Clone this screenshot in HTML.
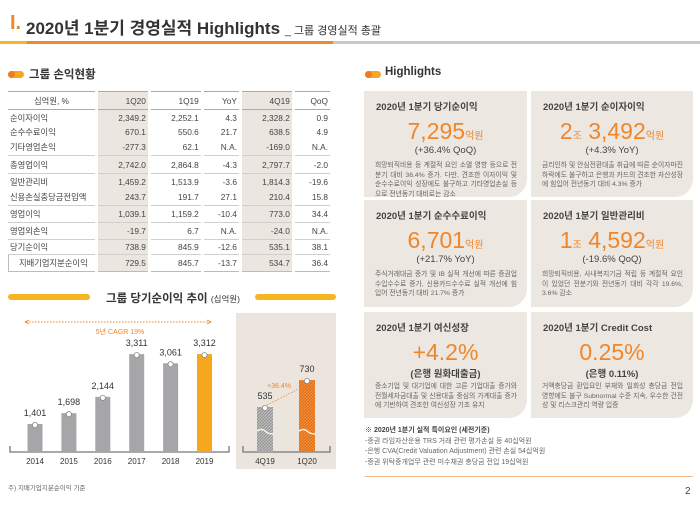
<!DOCTYPE html>
<html><head><meta charset="utf-8">
<style>
*{margin:0;padding:0;box-sizing:border-box}
body{width:700px;height:505px;background:#fff;position:relative;overflow:hidden;font-family:"Liberation Sans","Noto Sans CJK KR",sans-serif;color:#333}
.abs{position:absolute}
.pill{position:absolute;width:16px;height:7px;border-radius:4px;background:#f6a623}
.pill:before{content:"";position:absolute;left:0;top:0;width:7px;height:7px;border-radius:4px;background:#ee7d22}
table{position:absolute;left:8px;top:91px;width:328px;border-collapse:separate;border-spacing:3px 0;margin-left:-3px;font-size:8.3px;color:#444}
td{text-align:right;padding-right:2px;white-space:nowrap}
td:first-child{text-align:left;padding-left:2px}
.sh{background:#ebe6df}
tr.g td{border-top:1px solid #cfcfcf}
thead td{height:19px;border-top:1.5px solid #aaa;border-bottom:1.5px solid #aaa}
.card{position:absolute;background:#ece7e0;border-bottom-right-radius:18px}
.card .t{position:absolute;left:12px;top:8px;font-size:9.5px;font-weight:bold;color:#444}
.card .n{position:absolute;left:0;right:0;text-align:center;color:#f0862a;font-size:23px;top:27px}
.card .n small{font-size:10px;color:#f0862a}
.card .s{position:absolute;left:0;right:0;text-align:center;font-size:9.5px;color:#444;top:54px}
.card .d{position:absolute;left:11px;right:10px;top:70px;font-size:6.8px;line-height:9.5px;color:#666;text-align:justify}
.note{font-size:7px;color:#666;line-height:10.5px}
</style></head><body>
<div class="abs" style="left:10px;top:12px;font-size:20px;color:#f0862a;font-weight:bold">I.</div>
<div class="abs" style="left:26px;top:14px;font-size:17px;font-weight:bold;color:#333">2020년 1분기 경영실적 Highlights <span style="font-size:11px;font-weight:normal">_ 그룹 경영실적 총괄</span></div>
<div class="abs" style="left:0;top:41px;width:700px;height:3px;background:#c8c8c8"><div style="position:absolute;left:0;width:27px;height:3px;background:#f6b623"></div><div style="position:absolute;left:27px;width:306px;height:3px;background:#ee8a2c"></div></div>

<div class="pill" style="left:8px;top:71px"></div>
<div class="abs" style="left:29px;top:66px;font-size:11.5px;font-weight:bold">그룹 손익현황</div>

<table>
<thead><tr><td style="text-align:center;width:87px">십억원, %</td><td class="sh">1Q20</td><td>1Q19</td><td>YoY</td><td class="sh">4Q19</td><td>QoQ</td></tr></thead>
<tbody>
<tr style="height:15px"><td>순이자이익</td><td class="sh">2,349.2</td><td>2,252.1</td><td>4.3</td><td class="sh">2,328.2</td><td>0.9</td></tr>
<tr style="height:14px"><td>순수수료이익</td><td class="sh">670.1</td><td>550.6</td><td>21.7</td><td class="sh">638.5</td><td>4.9</td></tr>
<tr style="height:16px"><td>기타영업손익</td><td class="sh">-277.3</td><td>62.1</td><td>N.A.</td><td class="sh">-169.0</td><td>N.A.</td></tr>
<tr class="g" style="height:18px"><td>총영업이익</td><td class="sh">2,742.0</td><td>2,864.8</td><td>-4.3</td><td class="sh">2,797.7</td><td>-2.0</td></tr>
<tr class="g" style="height:16px"><td>일반관리비</td><td class="sh">1,459.2</td><td>1,513.9</td><td>-3.6</td><td class="sh">1,814.3</td><td>-19.6</td></tr>
<tr style="height:16px"><td>신용손실충당금전입액</td><td class="sh">243.7</td><td>191.7</td><td>27.1</td><td class="sh">210.4</td><td>15.8</td></tr>
<tr class="g" style="height:17px"><td>영업이익</td><td class="sh">1,039.1</td><td>1,159.2</td><td>-10.4</td><td class="sh">773.0</td><td>34.4</td></tr>
<tr class="g" style="height:17px"><td>영업외손익</td><td class="sh">-19.7</td><td>6.7</td><td>N.A.</td><td class="sh">-24.0</td><td>N.A.</td></tr>
<tr class="g" style="height:15px"><td>당기순이익</td><td class="sh">738.9</td><td>845.9</td><td>-12.6</td><td class="sh">535.1</td><td>38.1</td></tr>
<tr class="g" style="height:18px"><td style="padding-left:10px;border-left:1px solid #bbb;border-bottom:1px solid #bbb">지배기업지분순이익</td><td class="sh" style="border-bottom:1px solid #bbb">729.5</td><td style="border-bottom:1px solid #bbb">845.7</td><td style="border-bottom:1px solid #bbb">-13.7</td><td class="sh" style="border-bottom:1px solid #bbb">534.7</td><td style="border-bottom:1px solid #bbb">36.4</td></tr>
</tbody></table>

<div class="abs" style="left:8px;top:294px;width:82px;height:6px;border-radius:3px;background:#f6b623"></div>
<div class="abs" style="left:255px;top:294px;width:81px;height:6px;border-radius:3px;background:#f6b623"></div>
<div class="abs" style="left:106px;top:290px;font-size:11.5px;font-weight:bold">그룹 당기순이익 추이 <span style="font-size:8.5px;font-weight:normal">(십억원)</span></div>
<div class="abs" style="left:236px;top:313px;width:100px;height:156px;background:#ebe5de"></div>
<svg id="chart" class="abs" style="left:0;top:0" width="700" height="505"></svg>
<div class="abs" style="left:8px;top:482px;font-size:6.5px;color:#666">주) 지배기업지분순이익 기준</div>

<div class="pill" style="left:365px;top:71px"></div>
<div class="abs" style="left:385px;top:66px;font-size:11.5px;font-weight:bold">Highlights</div>

<div class="card" style="left:364px;top:91px;width:163px;height:106px"><div class="t">2020년 1분기 당기순이익</div><div class="n">7,295<small>억원</small></div><div class="s">(+36.4% QoQ)</div><div class="d">희망퇴직비용 등 계절적 요인 소멸 영향 등으로 전분기 대비 36.4% 증가. 다만, 견조한 이자이익 및 순수수료이익 성장에도 불구하고 기타영업손실 등으로 전년동기 대비로는 감소</div></div>
<div class="card" style="left:531px;top:91px;width:162px;height:106px"><div class="t">2020년 1분기 순이자이익</div><div class="n">2<small>조</small> 3,492<small>억원</small></div><div class="s">(+4.3% YoY)</div><div class="d">금리인하 및 안심전환대출 취급에 따른 순이자마진 하락에도 불구하고 은행과 카드의 견조한 자산성장에 힘입어 전년동기 대비 4.3% 증가</div></div>
<div class="card" style="left:364px;top:200px;width:163px;height:107px"><div class="t">2020년 1분기 순수수료이익</div><div class="n">6,701<small>억원</small></div><div class="s">(+21.7% YoY)</div><div class="d">주식거래대금 증가 및 IB 실적 개선에 따른 증권업 수입수수료 증가, 신용카드수수료 실적 개선에 힘입어 전년동기 대비 21.7% 증가</div></div>
<div class="card" style="left:531px;top:200px;width:162px;height:107px"><div class="t">2020년 1분기 일반관리비</div><div class="n">1<small>조</small> 4,592<small>억원</small></div><div class="s">(-19.6% QoQ)</div><div class="d">희망퇴직비용, 사내복지기금 적립 등 계절적 요인이 있었던 전분기와 전년동기 대비 각각 19.6%, 3.6% 감소</div></div>
<div class="card" style="left:364px;top:312px;width:163px;height:106px"><div class="t">2020년 1분기 여신성장</div><div class="n">+4.2%</div><div class="s" style="font-weight:bold">(은행 원화대출금)</div><div class="d">중소기업 및 대기업에 대한 고른 기업대출 증가와 전월세자금대출 및 신용대출 중심의 가계대출 증가에 기반하여 견조한 여신성장 기조 유지</div></div>
<div class="card" style="left:531px;top:312px;width:162px;height:106px"><div class="t">2020년 1분기 Credit Cost</div><div class="n">0.25%</div><div class="s" style="font-weight:bold">(은행 0.11%)</div><div class="d">거액충당금 환입요인 부재와 일회성 충당금 전입 영향에도 불구 Subnormal 수준 지속, 우수한 건전성 및 리스크관리 역량 입증</div></div>

<div class="abs note" style="left:365px;top:426px"><b style="color:#444">※ 2020년 1분기 실적 특이요인 (세전기준)</b><br>-증권 라임자산운용 TRS 거래 관련 평가손실 등 40십억원<br>-은행 CVA(Credit Valuation Adjustment) 관련 손실 54십억원<br>-증권 위탁중개업무 관련 미수채권 충당금 전입 19십억원</div>
<div class="abs" style="left:365px;top:476px;width:328px;height:1px;background:#f5b98a"></div>
<div class="abs" style="left:685px;top:486px;font-size:10px;color:#444">2</div>

<script>
const years=["2014","2015","2016","2017","2018","2019"];
const annualValues=[1401,1698,2144,3311,3061,3312];
const annualLabels=["1,401","1,698","2,144","3,311","3,061","3,312"];
const quarters=["4Q19","1Q20"];
const quarterValues=[535,730];
const quarterLabels=["535","730"];
const NS="http://www.w3.org/2000/svg";
const svg=document.getElementById("chart");
function el(t,a,p){const e=document.createElementNS(NS,t);for(const k in a)e.setAttribute(k,a[k]);(p||svg).appendChild(e);return e;}
const base=452;
const yA=v=>475.3-0.0366*v;
const xA=i=>35+i*33.9;
const yQ=v=>base-(v-209)*0.138;
const xQ=i=>265+i*42;
const defs=el("defs",{});
const p1=el("pattern",{id:"hg",width:3,height:3,patternUnits:"userSpaceOnUse"},defs);
el("rect",{width:3,height:3,fill:"#9a9a9a"},p1);el("path",{d:"M0,3L3,0",stroke:"#c4c4c4","stroke-width":0.8},p1);
const p2=el("pattern",{id:"ho",width:3,height:3,patternUnits:"userSpaceOnUse"},defs);
el("rect",{width:3,height:3,fill:"#e46f14"},p2);el("path",{d:"M0,3L3,0",stroke:"#f09a4a","stroke-width":0.8},p2);
// brackets
el("path",{d:"M10,446V452H229V446",fill:"none",stroke:"#777","stroke-width":1.3});
el("path",{d:"M243,446V452H330V446",fill:"none",stroke:"#777","stroke-width":1.3});
// CAGR arrow
let a=el("path",{d:"M26,322H210",stroke:"#f0862a","stroke-width":1,"stroke-dasharray":"1.5,1.5",fill:"none"});

el("path",{d:"M29,320L25,322L29,324M207,320L211,322L207,324",stroke:"#f0862a",fill:"none","stroke-width":0.8});
let ct=el("text",{x:120,y:334,"text-anchor":"middle","font-size":7,fill:"#f0862a"});ct.textContent="5년 CAGR 19%";

annualValues.forEach((v,i)=>{
  const y=yA(v),x=xA(i);
  const r=el("rect",{x:x-7.5,y:y,width:15,height:base-y,fill:i==5?"#f6a71e":"#a6a6a8"});
  
  
  el("circle",{cx:x,cy:y+1,r:2.6,fill:"#fff",stroke:"#888","stroke-width":0.8});
  const t=el("text",{x:x,y:y-8,"text-anchor":"middle","font-size":9,fill:"#333"});t.textContent=annualLabels[i];
  
  const l=el("text",{x:x,y:464,"text-anchor":"middle","font-size":8,fill:"#333"});l.textContent=years[i];
  
});
quarterValues.forEach((v,i)=>{
  const y=yQ(v),x=xQ(i);
  const r=el("rect",{x:x-8,y:y,width:16,height:base-y,fill:i==1?"url(#ho)":"url(#hg)"});
  
  
  el("path",{d:`M${x-8},431Q${x-3},428 ${x},431T${x+8},434`,stroke:"#f3efe9","stroke-width":1.5,fill:"none"});
  el("circle",{cx:x,cy:y+1,r:2.6,fill:"#fff",stroke:"#888","stroke-width":0.8});
  const t=el("text",{x:x,y:y-8,"text-anchor":"middle","font-size":9,fill:"#333"});t.textContent=quarterLabels[i];
  
  const l=el("text",{x:x,y:464,"text-anchor":"middle","font-size":8,fill:"#333"});l.textContent=quarters[i];
  
});
el("path",{d:`M${xQ(0)+2},${yQ(quarterValues[0])-2}L${xQ(1)-3},${yQ(quarterValues[1])+6}`,stroke:"#f0862a","stroke-width":0.8,"stroke-dasharray":"1.5,1.5",fill:"none"});
let g=el("text",{x:279,y:388,"text-anchor":"middle","font-size":7,fill:"#f0862a"});g.textContent="+36.4%";

</script>
</body></html>
